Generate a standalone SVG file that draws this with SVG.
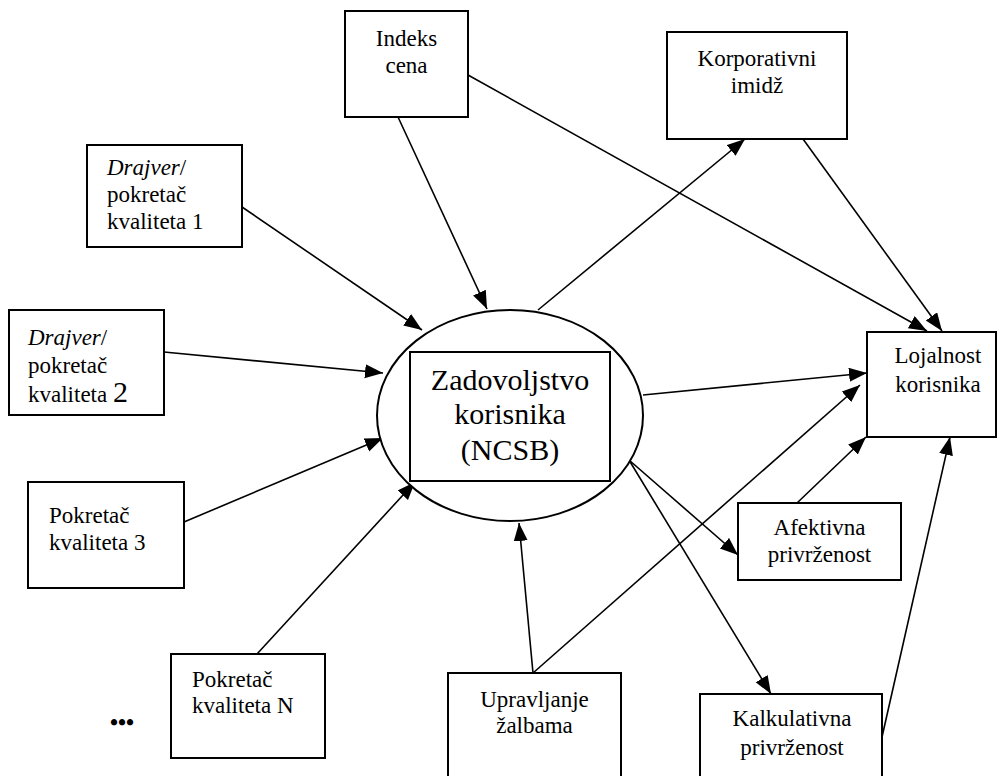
<svg xmlns="http://www.w3.org/2000/svg" width="997" height="776" viewBox="0 0 997 776">
<defs>
<marker id="ah" markerUnits="userSpaceOnUse" markerWidth="20" markerHeight="16" refX="18" refY="7" orient="auto">
<path d="M0,0 L18,7 L0,14 z" fill="#000"/>
</marker>
<style>
.box{fill:#fff;stroke:#000;stroke-width:2}
.t{font-family:"Liberation Serif","Times New Roman",serif;font-size:23px;fill:#000}
.c{text-anchor:middle}
.big{font-size:30px}
.ln{stroke:#000;stroke-width:1.6;fill:none;marker-end:url(#ah)}
</style>
</defs>
<rect width="997" height="776" fill="#fff"/>
<g id="connectors">
<line class="ln" x1="398" y1="117" x2="487" y2="309"/>
<line class="ln" x1="468" y1="75" x2="927" y2="331"/>
<line class="ln" x1="242" y1="207" x2="422" y2="330"/>
<line class="ln" x1="538" y1="310" x2="745" y2="139"/>
<line class="ln" x1="803" y1="139" x2="942" y2="331"/>
<line class="ln" x1="164" y1="352" x2="383" y2="373"/>
<line class="ln" x1="184" y1="522" x2="383" y2="438"/>
<line class="ln" x1="257" y1="654" x2="415" y2="482"/>
<line class="ln" x1="533" y1="673" x2="519" y2="523"/>
<line class="ln" x1="533" y1="673" x2="860" y2="385"/>
<line class="ln" x1="643" y1="395" x2="867" y2="373"/>
<line class="ln" x1="629" y1="460" x2="738" y2="555"/>
<line class="ln" x1="629" y1="460" x2="771" y2="694"/>
<line class="ln" x1="797" y1="503" x2="866" y2="437"/>
<line class="ln" x1="882" y1="737" x2="950" y2="437"/>
</g>
<g id="indeks">
<rect class="box" x="345" y="11" width="123" height="106"/>
<text class="t c" x="406.5" y="46">Indeks</text>
<text class="t c" x="406.5" y="73">cena</text>
</g>
<g id="korporativni">
<rect class="box" x="667" y="32" width="180" height="107"/>
<text class="t c" x="757" y="66">Korporativni</text>
<text class="t c" x="757" y="93">imidž</text>
</g>
<g id="drajver1">
<rect class="box" x="87" y="145" width="155" height="102"/>
<text class="t" x="107" y="175"><tspan font-style="italic">Drajver</tspan>/</text>
<text class="t" x="107" y="202">pokretač</text>
<text class="t" x="107" y="229">kvaliteta 1</text>
</g>
<g id="drajver2">
<rect class="box" x="9" y="310" width="155" height="105"/>
<text class="t" x="28" y="345"><tspan font-style="italic">Drajver</tspan>/</text>
<text class="t" x="28" y="373">pokretač</text>
<text class="t" x="28" y="402">kvaliteta <tspan class="big">2</tspan></text>
</g>
<g id="pokretac3">
<rect class="box" x="28" y="482" width="156" height="106"/>
<text class="t" x="49" y="523">Pokretač</text>
<text class="t" x="49" y="550">kvaliteta 3</text>
</g>
<g id="pokretacN">
<rect class="box" x="171" y="654" width="154" height="104"/>
<text class="t" x="192" y="687">Pokretač</text>
<text class="t" x="192" y="713">kvaliteta N</text>
</g>
<g id="dots">
<text class="t" x="110" y="730" font-size="26" font-weight="bold">•••</text>
</g>
<g id="zadovoljstvo">
<ellipse cx="510" cy="415.5" rx="133" ry="105.5" fill="#fff" stroke="#000" stroke-width="2"/>
<rect class="box" x="410" y="352" width="200" height="129"/>
<text class="t c big" x="510" y="390">Zadovoljstvo</text>
<text class="t c big" x="510" y="424">korisnika</text>
<text class="t c big" x="510" y="460">(NCSB)</text>
</g>
<g id="lojalnost">
<rect class="box" x="867" y="332" width="129" height="105"/>
<text class="t c" x="938" y="363">Lojalnost</text>
<text class="t c" x="938" y="392">korisnika</text>
</g>
<g id="afektivna">
<rect class="box" x="738" y="503" width="163" height="77"/>
<text class="t c" x="819.5" y="535">Afektivna</text>
<text class="t c" x="819.5" y="562">privrženost</text>
</g>
<g id="upravljanje">
<rect class="box" x="448" y="673" width="173" height="110"/>
<text class="t c" x="534.5" y="707">Upravljanje</text>
<text class="t c" x="534.5" y="733">žalbama</text>
</g>
<g id="kalkulativna">
<rect class="box" x="700" y="694" width="182" height="90"/>
<text class="t c" x="792" y="726">Kalkulativna</text>
<text class="t c" x="792" y="755">privrženost</text>
</g>
</svg>
